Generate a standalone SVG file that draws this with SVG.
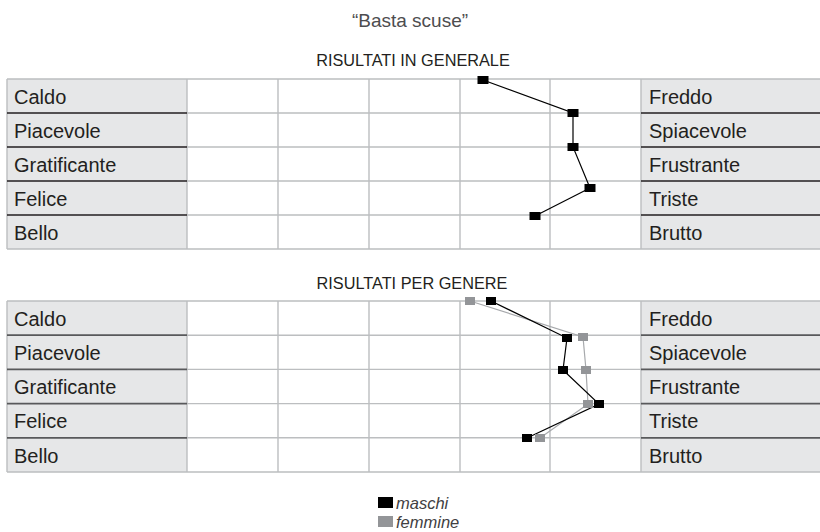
<svg xmlns="http://www.w3.org/2000/svg" width="820" height="532" viewBox="0 0 820 532">
<style>
.bg{fill:#ffffff}
.lab{fill:#e6e7e8}
.grid{stroke:#bcbec0;stroke-width:1.4;fill:none}
.sepA{stroke:#231f20;stroke-width:1.5}
.sepB{stroke:#58595b;stroke-width:1.8}
.t{font-family:"Liberation Sans",Arial,sans-serif;font-size:20px;fill:#231f20}
.h{font-family:"Liberation Sans",Arial,sans-serif;font-size:16.3px;fill:#231f20;text-anchor:middle}
.title{font-family:"Liberation Sans",Arial,sans-serif;font-size:19px;fill:#4d4d4f;text-anchor:middle}
.leg{font-family:"Liberation Sans",Arial,sans-serif;font-size:16.5px;font-style:italic;fill:#414042}
.m{fill:#000000}
.f{fill:#939598}
.lm{stroke:#000000;stroke-width:1.2;fill:none}
.lf{stroke:#a7a9ac;stroke-width:1.2;fill:none}
</style>
<rect class="bg" x="0" y="0" width="820" height="532"/>
<text class="title" x="410" y="27">“Basta scuse”</text>

<g id="table-generale">
<text class="h" x="413" y="66">RISULTATI IN GENERALE</text>
<rect class="lab" x="7" y="79" width="180" height="170"/>
<rect class="lab" x="641" y="79" width="179" height="170"/>
<g class="grid">
<path d="M7,79H820M187,113H641M187,147H641M187,181H641M187,215H641M7,249H820"/>
<path d="M7,79V249M187,79V249M278,79V249M369,79V249M460,79V249M550,79V249M641,79V249"/>
</g>
<path class="sepA" d="M7,113H187M7,147H187M7,181H187M7,215H187M641,113H820M641,147H820M641,181H820M641,215H820"/>
<g id="row1-caldo"><text class="t" x="14" y="104">Caldo</text><text class="t" x="649" y="104">Freddo</text></g>
<g id="row1-piacevole"><text class="t" x="14" y="138">Piacevole</text><text class="t" x="649" y="138">Spiacevole</text></g>
<g id="row1-gratificante"><text class="t" x="14" y="172">Gratificante</text><text class="t" x="649" y="172">Frustrante</text></g>
<g id="row1-felice"><text class="t" x="14" y="206">Felice</text><text class="t" x="649" y="206">Triste</text></g>
<g id="row1-bello"><text class="t" x="14" y="240">Bello</text><text class="t" x="649" y="240">Brutto</text></g>
</g>

<g id="table-genere">
<text class="h" x="412" y="289">RISULTATI PER GENERE</text>
<rect class="lab" x="7" y="301" width="180" height="171"/>
<rect class="lab" x="641" y="301" width="179" height="171"/>
<g class="grid">
<path d="M7,301H820M187,335.2H641M187,369.4H641M187,403.6H641M187,437.8H641M7,472H820"/>
<path d="M7,301V472M187,301V472M278,301V472M369,301V472M460,301V472M550,301V472M641,301V472"/>
</g>
<path class="sepB" d="M7,335.2H187M7,369.4H187M7,403.6H187M7,437.8H187M641,335.2H820M641,369.4H820M641,403.6H820M641,437.8H820"/>
<g id="row2-caldo"><text class="t" x="14" y="326">Caldo</text><text class="t" x="649" y="326">Freddo</text></g>
<g id="row2-piacevole"><text class="t" x="14" y="360">Piacevole</text><text class="t" x="649" y="360">Spiacevole</text></g>
<g id="row2-gratificante"><text class="t" x="14" y="394">Gratificante</text><text class="t" x="649" y="394">Frustrante</text></g>
<g id="row2-felice"><text class="t" x="14" y="428">Felice</text><text class="t" x="649" y="428">Triste</text></g>
<g id="row2-bello"><text class="t" x="14" y="463">Bello</text><text class="t" x="649" y="463">Brutto</text></g>
</g>

<g id="connectors">
<polyline class="lm" points="483,80 573,113 573,147 590,188 535,216"/>
<polyline class="lf" points="470,301 583,337 586,370 588,404 540,438"/>
<polyline class="lm" points="491,301 567,338 563,370 599,404 527,438"/>
</g>

<g id="series-generale">
<rect class="m" x="477.5" y="76" width="11" height="8"/>
<rect class="m" x="567.5" y="109" width="11" height="8"/>
<rect class="m" x="567.5" y="143" width="11" height="8"/>
<rect class="m" x="584.5" y="184" width="11" height="8"/>
<rect class="m" x="529.5" y="212" width="11" height="8"/>
</g>
<g id="series-femmine">
<rect class="f" x="465" y="297" width="10" height="8"/>
<rect class="f" x="578" y="333" width="10" height="8"/>
<rect class="f" x="581" y="366" width="10" height="8"/>
<rect class="f" x="583" y="400" width="10" height="8"/>
<rect class="f" x="535" y="434" width="10" height="8"/>
</g>
<g id="series-maschi">
<rect class="m" x="486" y="297" width="10" height="8"/>
<rect class="m" x="562" y="334" width="10" height="8"/>
<rect class="m" x="558" y="366" width="10" height="8"/>
<rect class="m" x="594" y="400" width="10" height="8"/>
<rect class="m" x="522" y="434" width="10" height="8"/>
</g>

<g id="legend">
<rect class="m" x="378" y="497" width="15" height="11"/>
<text class="leg" x="396" y="509">maschi</text>
<rect class="f" x="378" y="516" width="15" height="11"/>
<text class="leg" x="396" y="528">femmine</text>
</g>
</svg>
